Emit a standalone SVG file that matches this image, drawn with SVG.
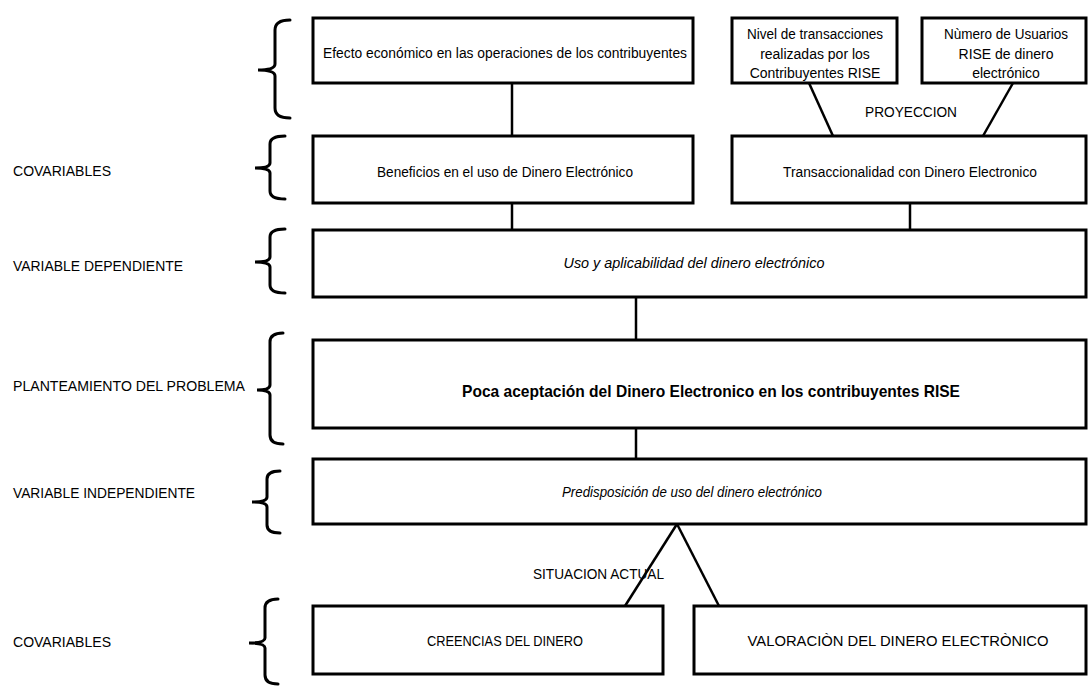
<svg xmlns="http://www.w3.org/2000/svg" width="1092" height="686" viewBox="0 0 1092 686">
<style>
.box{fill:#fff;stroke:#000;stroke-width:3}
.ln{fill:none;stroke:#000;stroke-width:2.5}
.br{fill:none;stroke:#000;stroke-width:3;stroke-linecap:round}
text{font-family:"Liberation Sans",Arial,sans-serif;fill:#000}
.t{font-size:14px;text-anchor:middle}
.lab{font-size:14px}
.it{font-size:14px;font-style:italic;text-anchor:middle}
.b{font-size:17px;font-weight:bold;text-anchor:middle}
</style>
<rect width="1092" height="686" fill="#fff"/>
<g id="connectors">
<line class="ln" x1="512" y1="83" x2="512" y2="136"/>
<line class="ln" x1="809" y1="83" x2="833" y2="136"/>
<line class="ln" x1="1013" y1="83" x2="983" y2="136"/>
<line class="ln" x1="512" y1="203" x2="512" y2="230"/>
<line class="ln" x1="910" y1="203" x2="910" y2="230"/>
<line class="ln" x1="636" y1="297" x2="636" y2="340"/>
<line class="ln" x1="636" y1="428" x2="636" y2="459"/>
<line class="ln" x1="677" y1="524" x2="625" y2="606"/>
<line class="ln" x1="677" y1="524" x2="719" y2="606"/>
</g>
<g id="braces">
<path class="br" d="M290,20 Q275,20 275,30 L275,64 Q275,70 258,70 Q275,70 275,76 L275,108 Q275,118 290,118"/>
<path class="br" d="M285,136 Q270,136 270,144 L270,163 Q270,168 255,168 Q270,168 270,173 L270,191 Q270,199 285,199"/>
<path class="br" d="M285,229 Q270,229 270,237 L270,257 Q270,262 255,262 Q270,262 270,267 L270,285 Q270,293 285,293"/>
<path class="br" d="M283,333 Q270,333 270,342 L270,385 Q270,390 257,390 Q270,390 270,395 L270,435 Q270,444 283,444"/>
<path class="br" d="M280,471 Q267,471 267,479 L267,497 Q267,502 252,502 Q267,502 267,507 L267,525 Q267,533 280,533"/>
<path class="br" d="M278,599 Q265,599 265,608 L265,638 Q265,643 249,643 Q265,643 265,648 L265,675 Q265,684 278,684"/>
</g>
<g id="labels">
<text class="lab" x="13" y="176" textLength="98" lengthAdjust="spacingAndGlyphs">COVARIABLES</text>
<text class="lab" x="13" y="271" textLength="170" lengthAdjust="spacingAndGlyphs">VARIABLE DEPENDIENTE</text>
<text class="lab" x="13" y="391" textLength="232" lengthAdjust="spacingAndGlyphs">PLANTEAMIENTO DEL PROBLEMA</text>
<text class="lab" x="13" y="498" textLength="182" lengthAdjust="spacingAndGlyphs">VARIABLE INDEPENDIENTE</text>
<text class="lab" x="13" y="647" textLength="98" lengthAdjust="spacingAndGlyphs">COVARIABLES</text>
<text class="lab" x="865" y="117" textLength="92" lengthAdjust="spacingAndGlyphs">PROYECCION</text>
<text class="lab" x="533" y="579" textLength="131" lengthAdjust="spacingAndGlyphs">SITUACION ACTUAL</text>
</g>
<g id="n-efecto">
<rect class="box" x="313" y="18" width="380" height="65"/>
<text class="t" x="505" y="58" textLength="364" lengthAdjust="spacingAndGlyphs">Efecto económico en las operaciones de los contribuyentes</text>
</g>
<g id="n-nivel">
<rect class="box" x="732" y="18" width="165" height="65"/>
<text class="t" x="815" y="39" textLength="136" lengthAdjust="spacingAndGlyphs">Nivel de transacciones</text>
<text class="t" x="815" y="59">realizadas por los</text>
<text class="t" x="815" y="78">Contribuyentes RISE</text>
</g>
<g id="n-numero">
<rect class="box" x="922" y="18" width="164" height="65"/>
<text class="t" x="1006" y="39" textLength="124" lengthAdjust="spacingAndGlyphs">Nùmero de Usuarios</text>
<text class="t" x="1006" y="59">RISE de dinero</text>
<text class="t" x="1006" y="78">electrónico</text>
</g>
<g id="n-beneficios">
<rect class="box" x="313" y="136" width="380" height="67"/>
<text class="t" x="505" y="177" textLength="256" lengthAdjust="spacingAndGlyphs">Beneficios en el uso de Dinero Electrónico</text>
</g>
<g id="n-transaccionalidad">
<rect class="box" x="732" y="136" width="354" height="67"/>
<text class="t" x="910" y="177" textLength="254" lengthAdjust="spacingAndGlyphs">Transaccionalidad con Dinero Electronico</text>
</g>
<g id="n-uso">
<rect class="box" x="313" y="230" width="773" height="67"/>
<text class="it" x="694" y="268" textLength="261" lengthAdjust="spacingAndGlyphs">Uso y aplicabilidad del dinero electrónico</text>
</g>
<g id="n-poca">
<rect class="box" x="313" y="340" width="773" height="88"/>
<text class="b" x="711" y="397" textLength="498" lengthAdjust="spacingAndGlyphs">Poca aceptación del Dinero Electronico en los contribuyentes RISE</text>
</g>
<g id="n-predisposicion">
<rect class="box" x="313" y="459" width="773" height="65"/>
<text class="it" x="692" y="497" textLength="260" lengthAdjust="spacingAndGlyphs">Predisposición de uso del dinero electrónico</text>
</g>
<g id="n-creencias">
<rect class="box" x="313" y="606" width="350" height="68"/>
<text class="t" x="505" y="646" textLength="156" lengthAdjust="spacingAndGlyphs">CREENCIAS DEL DINERO</text>
</g>
<g id="n-valoracion">
<rect class="box" x="694" y="606" width="392" height="68"/>
<text class="t" x="898" y="646" textLength="301" lengthAdjust="spacingAndGlyphs">VALORACIÒN DEL DINERO ELECTRÒNICO</text>
</g>
</svg>
